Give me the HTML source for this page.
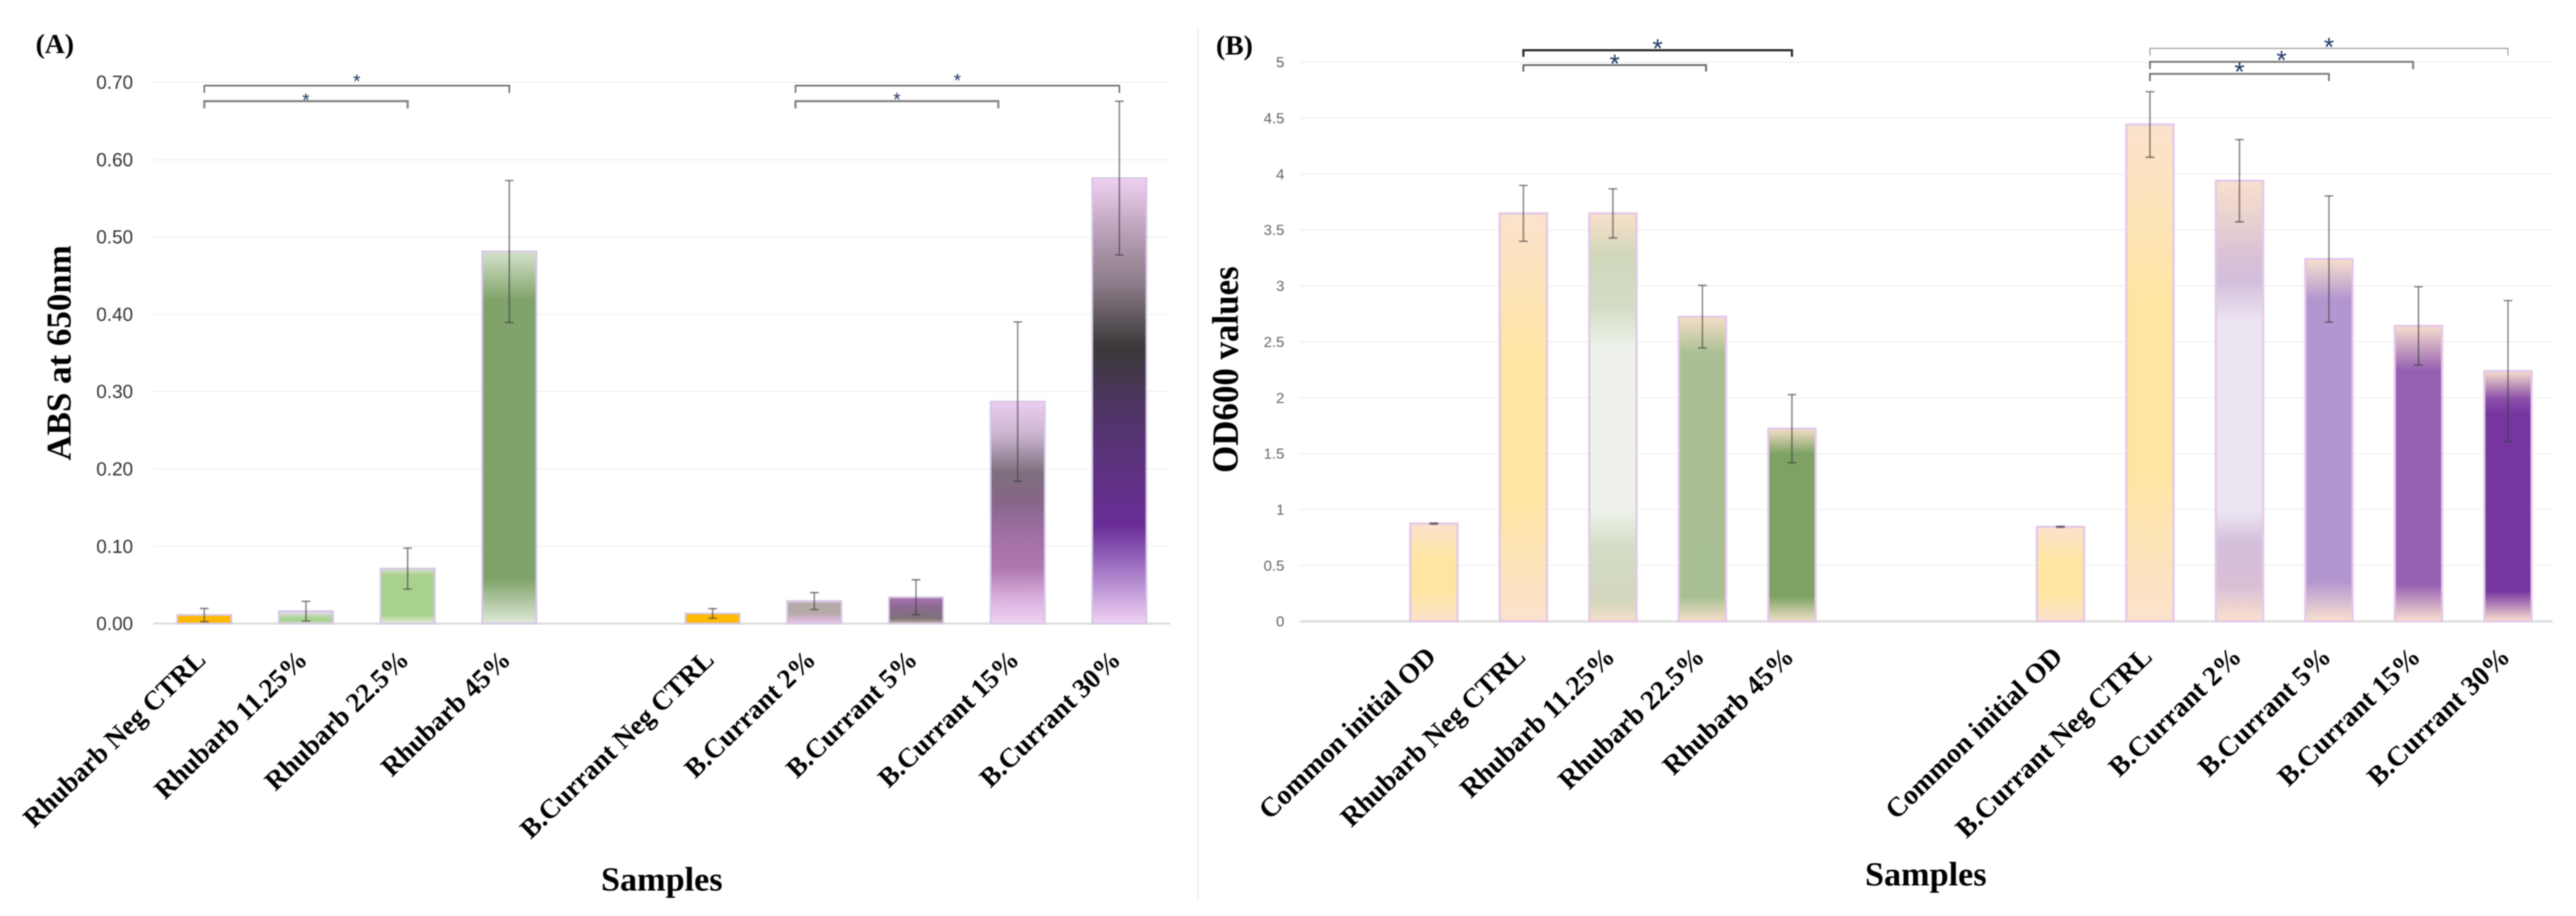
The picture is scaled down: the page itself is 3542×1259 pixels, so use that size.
<!DOCTYPE html>
<html lang="en">
<head>
<meta charset="utf-8">
<title>Rhubarb and blackcurrant bar charts</title>
<style>
html,body{margin:0;padding:0;background:#fff;}
#figure{display:block;width:3542px;height:1259px;filter:blur(0.7px);}
text{font-family:"Liberation Serif",serif;}
.num{font-family:"Liberation Sans",sans-serif;}
</style>
</head>
<body>
<svg id="figure" xmlns="http://www.w3.org/2000/svg" width="3542" height="1259" viewBox="0 0 3542 1259">
  <defs id="defs"></defs>
  <rect x="0" y="0" width="3542" height="1259" fill="#fff"></rect>
  <line x1="1647" y1="39" x2="1647" y2="1237" stroke="#eeeeee" stroke-width="2"></line>
  <g id="chart-a"></g>
  <g id="chart-b"></g>
  <text x="49" y="73" font-size="38" font-weight="bold" fill="#000">(A)</text>
  <text x="1672" y="75" font-size="38" font-weight="bold" fill="#000">(B)</text>
  <text transform="translate(97,485) rotate(-90)" text-anchor="middle" font-size="48" font-weight="bold" fill="#000">ABS at 650nm</text>
  <text transform="translate(1702,508) rotate(-90) scale(1,1.05)" text-anchor="middle" font-size="48" font-weight="bold" fill="#000">OD600 values</text>
  <text x="910" y="1224" text-anchor="middle" font-size="47" font-weight="bold" fill="#000">Samples</text>
  <text x="2648" y="1217" text-anchor="middle" font-size="47" font-weight="bold" fill="#000">Samples</text>
</svg>
<script>
// Panel A data
var categoriesA = ["Rhubarb Neg CTRL","Rhubarb 11.25%","Rhubarb 22.5%","Rhubarb 45%","","B.Currant Neg CTRL","B.Currant 2%","B.Currant 5%","B.Currant 15%","B.Currant 30%"];
var valuesA = [0.011,0.016,0.071,0.481,null,0.013,0.029,0.034,0.287,0.576];
var errorsA = [0.0085,0.0127,0.0265,0.0918,null,0.0062,0.011,0.0226,0.103,0.0994];
var tickLabelsA = ["0.00","0.10","0.20","0.30","0.40","0.50","0.60","0.70"];
var bracketFromA = [0,0,5.815,5.815];
var bracketToA = [3,2,9,7.81];
var bracketLevelA = [0.6955,0.6755,0.6955,0.6755];

// Panel B data
var categoriesB = ["","Common initial OD","Rhubarb Neg CTRL","Rhubarb 11.25%","Rhubarb 22.5%","Rhubarb 45%","","","Common initial OD","B.Currant Neg CTRL","B.Currant 2%","B.Currant 5%","B.Currant 15%","B.Currant 30%"];
var valuesB = [null,0.874,3.648,3.648,2.724,1.723,null,null,0.845,4.443,3.94,3.24,2.642,2.238];
var errorsB = [null,0.005,0.25,0.22,0.28,0.305,null,null,0.005,0.293,0.368,0.564,0.35,0.63];
var tickLabelsB = ["0","0.5","1","1.5","2","2.5","3","3.5","4","4.5","5"];
var bracketFromB = [2,2,9,9,9];
var bracketToB = [5,4.04,13,11.94,11];
var bracketLevelB = [5.107,4.974,5.124,5.003,4.896];

// Styles (gradient offset, colour) per bar
var yellowFill = [[0,"#fbe2cd"],[0.38,"#fee5a0"],[0.68,"#fee5a0"],[1,"#fbe2cd"]];
var fillsA = [
  [[0,"#e9a56a"],[0.12,"#ffb900"],[1,"#ffb900"]],
  [[0,"#dcd6e0"],[0.25,"#d6d6d6"],[0.38,"#b8d6a6"],[0.75,"#a6d08e"],[1,"#c9e3ba"]],
  [[0,"#d6e3c9"],[0.12,"#a9d18e"],[0.85,"#a9d18e"],[1,"#e2efd9"]],
  [[0,"#d5e2ca"],[0.13,"#7fa36a"],[0.88,"#7fa36a"],[1,"#dfe9d8"]],
  null,
  [[0,"#e5a58a"],[0.12,"#ffb900"],[1,"#ffb900"]],
  [[0,"#e0c8dc"],[0.12,"#b4aaa8"],[0.55,"#b4aaa8"],[0.72,"#cdb0c8"],[1,"#e8c6e6"]],
  [[0,"#a87aa8"],[0.14,"#a06ea8"],[0.35,"#8c6a92"],[0.8,"#7f7078"],[1,"#c0b4a4"]],
  [[0,"#eccdf0"],[0.15,"#c9b3cf"],[0.32,"#7e6f7e"],[0.45,"#866689"],[0.6,"#a06fa5"],[0.75,"#b077b0"],[0.9,"#dcb5e0"],[1,"#f0d2f4"]],
  [[0,"#efd0f2"],[0.12,"#baa0b8"],[0.24,"#8a7a87"],[0.38,"#3a3838"],[0.52,"#4f3566"],[0.78,"#6a2d97"],[0.85,"#9060b8"],[1,"#f0d2f4"]]
];
var fillsB = [
  null,
  yellowFill,
  yellowFill,
  [[0,"#fae0c9"],[0.1,"#d0d7bb"],[0.23,"#d3ddc5"],[0.33,"#edf1e9"],[0.73,"#edf1e9"],[0.82,"#d4dcc5"],[0.95,"#d2d6bd"],[1,"#f6dfca"]],
  [[0,"#f5dfc7"],[0.12,"#aabf93"],[0.92,"#a9c094"],[1,"#f6e0c9"]],
  [[0,"#f4dec7"],[0.13,"#7da263"],[0.87,"#7da263"],[1,"#f0dfc7"]],
  null,
  null,
  yellowFill,
  yellowFill,
  [[0,"#f8e0cb"],[0.18,"#d8c0d8"],[0.23,"#d2bfdb"],[0.32,"#ece5f1"],[0.75,"#ece5f1"],[0.82,"#d3bfdb"],[0.92,"#dabfd5"],[1,"#f9e1cf"]],
  [[0,"#f8dfcc"],[0.11,"#b396cf"],[0.89,"#b396cf"],[1,"#f9e0d0"]],
  [[0,"#f7dfcc"],[0.15,"#9560b2"],[0.875,"#9560b2"],[1,"#f9e0d0"]],
  [[0,"#f7dfcc"],[0.11,"#8a4fa8"],[0.17,"#7636a0"],[0.88,"#7636a0"],[1,"#f9e0d0"]]
];
var bracketStylesA = [
  {color:"#666666",width:2,tick:10,lift:11},
  {color:"#888888",width:3,tick:10,lift:6},
  {color:"#666666",width:2,tick:10,lift:12},
  {color:"#888888",width:3,tick:10,lift:7}
];
var bracketStylesB = [
  {color:"#2a2a2a",width:3,tick:9,lift:9},
  {color:"#666666",width:2.5,tick:9,lift:8},
  {color:"#999999",width:1.5,tick:10,lift:8},
  {color:"#777777",width:2.5,tick:10,lift:9},
  {color:"#777777",width:2.5,tick:10,lift:9}
];

var SVGNS = "http://www.w3.org/2000/svg";

function make(parent, tag, attrs, text) {
  var node = document.createElementNS(SVGNS, tag);
  for (var k in attrs) { node.setAttribute(k, attrs[k]); }
  if (text !== undefined) { node.textContent = text; }
  parent.appendChild(node);
  return node;
}

function drawChart(opt) {
  var root = document.getElementById(opt.id);
  var defs = document.getElementById("defs");
  var slot = (opt.right - opt.left) / opt.categories.length;
  var maxTick = parseFloat(opt.tickLabels[opt.tickLabels.length - 1]);
  function xScale(i) { return opt.left + slot * (i + 0.5); }
  function yScale(v) { return opt.zeroY - (opt.zeroY - opt.topY) * v / maxTick; }

  opt.tickLabels.forEach(function (label) {
    var v = parseFloat(label);
    if (v !== 0) {
      var grid = make(root, "line", {x1: opt.left, x2: opt.right, y1: yScale(v), y2: yScale(v), stroke: "#f3f3f3", "stroke-width": 2});
      
      
    }
    var tick = make(root, "text", {"class": "num", x: opt.tickRight, y: yScale(v) + opt.tickSize * 0.35, "text-anchor": "end", "font-size": opt.tickSize, fill: opt.tickColor}, label);
    
    
  });

  var axis = make(root, "line", {x1: opt.left, x2: opt.right, y1: opt.zeroY, y2: opt.zeroY, stroke: "#dddddd", "stroke-width": 3});
  
  

  opt.categories.forEach(function (cat, i) {
    var val = opt.values[i];
    if (val === null) { return; }
    var cx = xScale(i);
    var gradId = opt.id + "-grad-" + i;
    var grad = make(defs, "linearGradient", {id: gradId, x1: 0, y1: 0, x2: 0, y2: 1});
    opt.fills[i].forEach(function (s) {
      make(grad, "stop", {offset: s[0], "stop-color": s[1]});
    });
    var bar = make(root, "rect", {x: cx - opt.barWidth / 2, y: yScale(val), width: opt.barWidth, height: opt.zeroY - yScale(val), fill: "url(#" + gradId + ")", stroke: opt.barStroke, "stroke-width": opt.barStrokeWidth});
    
    

    var err = opt.errors[i];
    var hi = yScale(val + err), lo = yScale(val - err);
    var eb = make(root, "g", {stroke: "#3c3c3c", "stroke-opacity": 0.62, "stroke-width": 2});
    
    
    make(eb, "line", {x1: cx, x2: cx, y1: hi, y2: lo});
    make(eb, "line", {x1: cx - 6, x2: cx + 6, y1: hi, y2: hi});
    make(eb, "line", {x1: cx - 6, x2: cx + 6, y1: lo, y2: lo});

    var lab = make(root, "text", {transform: "translate(" + (cx + opt.labelDx) + "," + opt.labelY + ") rotate(-44)", "text-anchor": "end", "font-size": opt.labelSize, "font-weight": "bold", fill: "#000"}, cat);
    
    
  });

  opt.bracketFrom.forEach(function (from, i) {
    var st = opt.bracketStyles[i];
    var x1 = xScale(from), x2 = xScale(opt.bracketTo[i]), y = yScale(opt.bracketLevel[i]);
    var br = make(root, "path", {d: "M" + x1 + " " + (y + st.tick) + "V" + y + "H" + x2 + "V" + (y + st.tick), fill: "none", stroke: st.color, "stroke-width": st.width});
    
    
    var star = make(root, "text", {"class": "num", x: (x1 + x2) / 2, y: y - st.lift + opt.starSize * 0.52, "text-anchor": "middle", "font-size": opt.starSize, fill: "#1f3864"}, "*");
    
    
  });
}

drawChart({
  id: "chart-a", categories: categoriesA, values: valuesA, errors: errorsA, tickLabels: tickLabelsA, fills: fillsA,
  bracketFrom: bracketFromA, bracketTo: bracketToA, bracketLevel: bracketLevelA, bracketStyles: bracketStylesA,
  left: 211, right: 1609, zeroY: 857, topY: 113, barWidth: 74.5, barStroke: "#d6c8e6", barStrokeWidth: 2.5,
  tickRight: 183, tickSize: 26, tickColor: "#333333", labelDx: 4, labelY: 909, labelSize: 37.5, starSize: 26
});
drawChart({
  id: "chart-b", categories: categoriesB, values: valuesB, errors: errorsB, tickLabels: tickLabelsB, fills: fillsB,
  bracketFrom: bracketFromB, bracketTo: bracketToB, bracketLevel: bracketLevelB, bracketStyles: bracketStylesB,
  left: 1787, right: 3510, zeroY: 854, topY: 85.5, barWidth: 65, barStroke: "#e3c8e8", barStrokeWidth: 3,
  tickRight: 1766, tickSize: 20.5, tickColor: "#666666", labelDx: 5, labelY: 905, labelSize: 38, starSize: 36
});
</script>
</body>
</html>
